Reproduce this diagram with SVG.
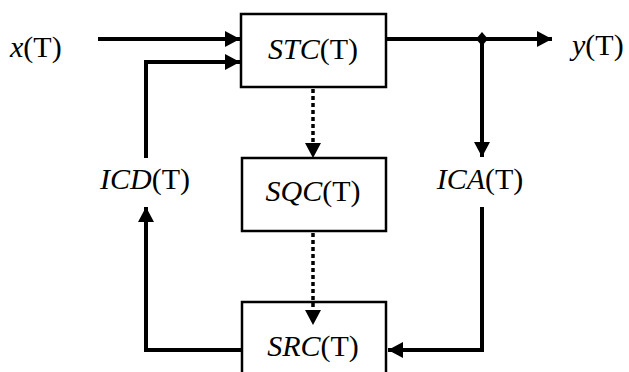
<svg xmlns="http://www.w3.org/2000/svg" width="629" height="372" viewBox="0 0 629 372">
<style>
.box{fill:#fff;stroke:#000;stroke-width:2.5}
.ln{fill:none;stroke:#000;stroke-width:4}
.dt{fill:none;stroke:#000;stroke-width:3.5;stroke-dasharray:4 3}
.t{font-family:"Liberation Serif","Times New Roman",serif;font-size:30px;fill:#000}
.i{font-style:italic}
</style>
<defs>
<marker id="ah" markerUnits="userSpaceOnUse" markerWidth="16" markerHeight="16" refX="15" refY="8" orient="auto"><path d="M0,0 L15,8 L0,16 Z" fill="#000"/></marker>
</defs>
<rect width="629" height="372" fill="#fff"/>
<g id="x"><text class="t" x="10" y="57"><tspan class="i">x</tspan>(T)</text></g>
<g id="y"><text class="t" x="572" y="55"><tspan class="i">y</tspan>(T)</text></g>
<g id="stc"><rect class="box" x="241" y="14" width="145" height="73"/><text class="t" x="313" y="59" text-anchor="middle"><tspan class="i">STC</tspan>(T)</text></g>
<g id="sqc"><rect class="box" x="242" y="158" width="144" height="73"/><text class="t" x="313" y="201" text-anchor="middle"><tspan class="i">SQC</tspan>(T)</text></g>
<g id="src"><rect class="box" x="242" y="302" width="144" height="80"/><text class="t" x="313" y="356" text-anchor="middle"><tspan class="i">SRC</tspan>(T)</text></g>
<g id="icd"><text class="t" x="145" y="189" text-anchor="middle"><tspan class="i">ICD</tspan>(T)</text></g>
<g id="ica"><text class="t" x="480" y="189" text-anchor="middle"><tspan class="i">ICA</tspan>(T)</text></g>
<g id="connectors">
<line class="ln" x1="98" y1="39" x2="240" y2="39" marker-end="url(#ah)"/>
<polyline class="ln" points="242,350 146,350 146,207" marker-end="url(#ah)"/>
<polyline class="ln" points="146,158 146,62 240,62" marker-end="url(#ah)"/>
<line class="ln" x1="387" y1="39" x2="552" y2="39" marker-end="url(#ah)"/>
<line class="ln" x1="482" y1="39" x2="482" y2="157" marker-end="url(#ah)"/>
<polyline class="ln" points="482,207 482,350 388,350" marker-end="url(#ah)"/>
<path d="M482,32 L488,39 L482,46 L476,39 Z" fill="#000"/>
<line class="dt" x1="313" y1="89" x2="313" y2="144"/>
<path d="M305,143 L321,143 L313,158 Z" fill="#000"/>
<line class="dt" x1="313" y1="233" x2="313" y2="311"/>
<path d="M305,310 L321,310 L313,325 Z" fill="#000"/>
</g>
</svg>
